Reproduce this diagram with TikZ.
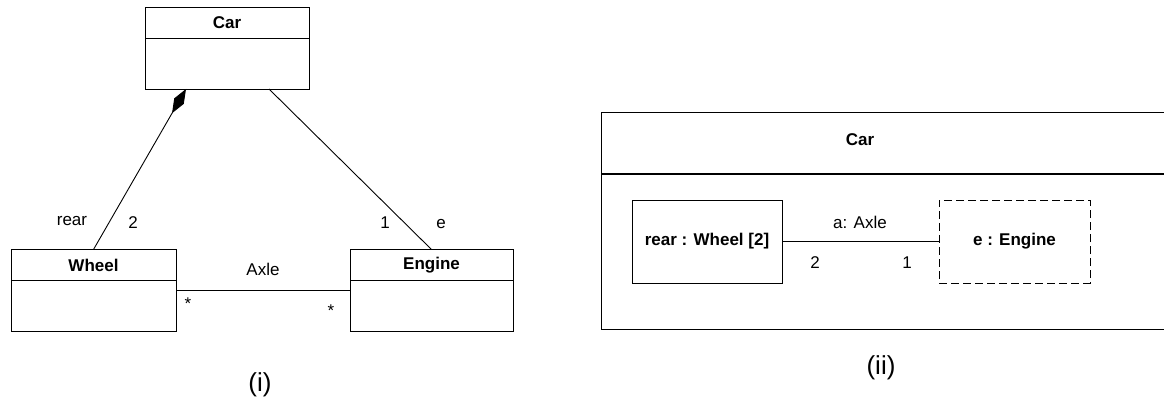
\documentclass[tikz,border=0pt]{standalone}
\usepackage{fontspec}
\setmainfont{Liberation Sans}
\usetikzlibrary{positioning, arrows.meta}

\begin{document}
\begin{tikzpicture}[
  x=1pt, y=-1pt,
  every node/.style={font=\fontsize{17}{20}\selectfont, inner sep=0pt, outer sep=0pt},
  line/.style={line width=0.9pt},
  header/.style={draw, line width=0.9pt, minimum height=31pt, font=\fontsize{17}{20}\selectfont\bfseries},
  body/.style={draw, line width=0.9pt, minimum height=51pt},
  part/.style={draw, line width=0.9pt, minimum width=150pt, minimum height=83pt, font=\fontsize{17}{20}\selectfont\bfseries},
  caption/.style={font=\fontsize{26}{30}\selectfont}
]
\useasboundingbox (0,0) rectangle (1164,406);

% -------------------------
% (i) class diagram
% -------------------------

\node[header, minimum width=164pt] (carh) at (227,22.5) {Car};
\node[body, minimum width=164pt, below=0pt of carh] (carb) {};

\node[header, minimum width=165pt] (wheelh) at (93.5,265) {Wheel};
\node[body, minimum width=165pt, below=0pt of wheelh] (wheelb) {};

\node[header, minimum width=163pt] (engineh) at (431.5,265) {Engine};
\node[body, minimum width=163pt, below=0pt of engineh] (engineb) {};

% associations
\draw[line, {Diamond[length=28pt, width=11pt]}-] ([xshift=-41pt]carb.south) -- (wheelh.north);
\draw[line] ([xshift=42pt]carb.south) -- (engineh.north);
\draw[line] ([yshift=15.5pt]wheelb.east) -- ([yshift=15.5pt]engineb.west);

% role names and multiplicities
\node (rearlbl) at (72,221) {rear};
\node (wmult) at (133,223) {2};
\node (emult) at (385,223) {1};
\node (erole) at (441,224) {e};
\node (axlelbl) at (263,269) {Axle};
\node (wstar) at (188,304) {*};
\node (estar) at (331,311) {*};

\node[caption] (capi) at (260,385) {(i)};

% -------------------------
% (ii) composite structure
% -------------------------

\draw[line] (1164,112) -- (601,112) -- (601,329) -- (1164,329);
\draw[line width=2pt] (601,174) -- (1164,174);
\node[font=\fontsize{17}{20}\selectfont\bfseries] (carii) at (860,140) {Car};

\node[part] (wheelpart) at (707,241.5) {rear : Wheel [2]};
\node[part, minimum width=151pt, dash pattern=on 8pt off 4pt] (enginepart) at (1014.5,241.5) {e : Engine};

\draw[line] (wheelpart) -- (enginepart);

\node (axlepart) at (860,222) {a: Axle};
\node (wpmult) at (815,263) {2};
\node (epmult) at (907,263) {1};

\node[caption] (capii) at (881,368) {(ii)};

\end{tikzpicture}
\end{document}
